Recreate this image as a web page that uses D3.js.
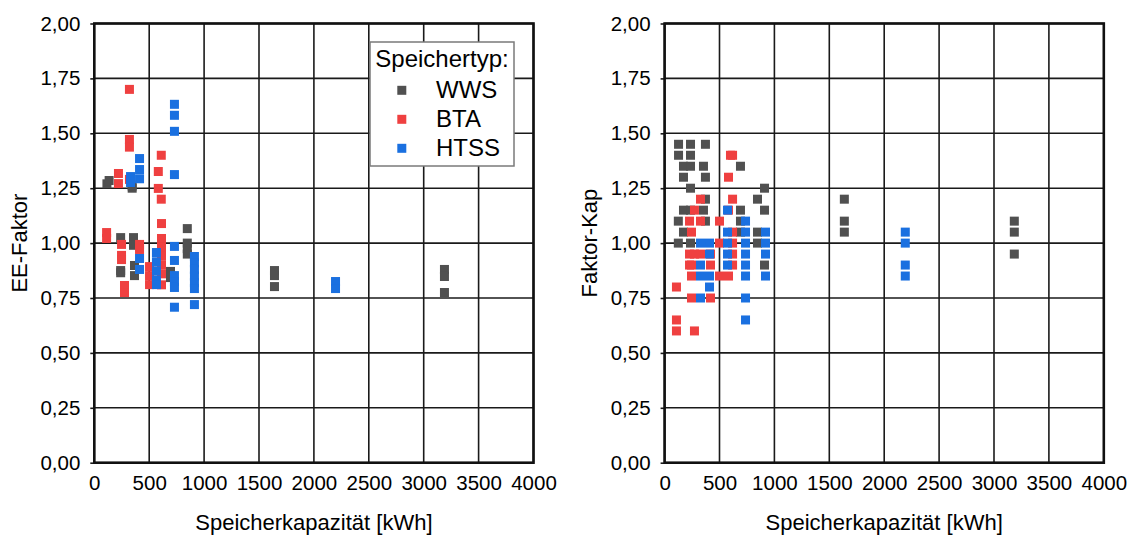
<!DOCTYPE html>
<html><head><meta charset="utf-8">
<script src="https://cdn.jsdelivr.net/npm/d3@7"></script>
<style>
body{margin:0;background:#fff;}
svg{display:block;font-family:"Liberation Sans",Arial,sans-serif;}
</style></head>
<body><svg id="c" width="1133" height="541"></svg>
<script>
// ---- data ----
const seriesNames = ["WWS", "BTA", "HTSS"];
const seriesColors = ["#505050", "#ef4040", "#1a70e0"];
const xTicks = [0, 500, 1000, 1500, 2000, 2500, 3000, 3500, 4000];
const yTicks = [0, 0.25, 0.5, 0.75, 1.0, 1.25, 1.5, 1.75, 2.0];
const xTitle = "Speicherkapazität [kWh]";
const leftTitle = "EE-Faktor";
const rightTitle = "Faktor-Kap";
const legendTitle = "Speichertyp:";

// left chart: EE-Faktor  [kWh, value]
const eeWWS = [[115,1.27],[135,1.285],[345,1.25],[345,1.26],[240,1.025],[357,1.025],[357,0.99],
  [240,0.875],[240,0.865],[366,0.898],[366,0.852],[694,0.871],[694,0.843],
  [847,1.066],[847,1.0],[847,0.975],[847,0.95],[1641,0.875],[1641,0.852],[1641,0.802],
  [3189,0.88],[3189,0.848],[3189,0.775]];
const eeBTA = [[320,1.70],[320,1.472],[320,1.437],[220,1.317],[220,1.271],[320,1.29],
  [583,1.326],[583,1.249],[610,1.40],[610,1.20],[612,1.089],[112,1.048],[112,1.021],
  [248,0.994],[248,0.944],[248,0.925],[412,0.994],[412,0.971],[275,0.807],[275,0.775],
  [503,0.893],[503,0.852],[503,0.811],[612,1.021],[612,0.98],[612,0.94],[612,0.90],[612,0.86],[612,0.81]];
const eeHTSS = [[730,1.632],[730,1.582],[730,1.509],[730,1.312],[412,1.385],[412,1.335],[412,1.293],
  [330,1.303],[330,1.276],[412,0.93],[412,0.88],[566,0.957],[566,0.915],[566,0.874],[566,0.833],[566,0.811],
  [730,0.985],[730,0.921],[730,0.852],[730,0.825],[730,0.798],[730,0.708],
  [912,0.939],[912,0.91],[912,0.88],[912,0.85],[912,0.82],[912,0.793],[912,0.72],
  [2197,0.825],[2197,0.793]];

// right chart: Faktor-Kap
const kapWWS = [[127,1.45],[236,1.45],[372,1.45],[127,1.40],[236,1.40],
  [172,1.35],[236,1.35],[354,1.35],[691,1.35],[172,1.30],[372,1.30],[236,1.25],[910,1.25],
  [372,1.20],[846,1.20],[172,1.15],[236,1.15],[354,1.15],[691,1.15],[910,1.15],
  [125,1.10],[372,1.10],[691,1.10],[172,1.05],[691,1.05],[846,1.05],
  [125,1.00],[236,1.00],[846,1.00],[910,0.90],
  [1637,1.20],[1637,1.10],[1637,1.05],[3185,1.10],[3185,1.05],[3185,0.95]];
const kapBTA = [[600,1.40],[619,1.40],[582,1.30],[327,1.20],[619,1.20],[272,1.15],[582,1.15],
  [227,1.10],[327,1.10],[500,1.10],[245,1.05],[619,1.05],[500,1.00],[619,1.00],
  [227,0.95],[272,0.95],[327,0.95],[418,0.95],[619,0.95],
  [227,0.90],[245,0.90],[418,0.90],[619,0.90],[245,0.85],[500,0.85],[582,0.85],
  [108,0.80],[245,0.75],[418,0.75],[108,0.65],[108,0.60],[272,0.60]];
const kapHTSS = [[573,1.15],[737,1.10],[573,1.05],[737,1.05],[919,1.05],
  [327,1.00],[409,1.00],[573,1.00],[737,1.00],[919,1.00],
  [409,0.95],[573,0.95],[737,0.95],[919,0.95],[327,0.90],[573,0.90],[737,0.90],
  [327,0.85],[409,0.85],[737,0.85],[919,0.85],[409,0.80],[327,0.75],[737,0.75],[737,0.65],
  [2192,1.05],[2192,1.00],[2192,0.90],[2192,0.85]];

// ---- drawing ----
const svg = d3.select("#c");
const fmtY = v => d3.format(".2f")(v).replace(".", ",");
const plotTop = 23.5, plotBottom = 462.7, plotW = 439.2;

function panel(x0, series, yTitle, titleX, legend) {
  const x = d3.scaleLinear().domain([0, 4000]).range([x0, x0 + plotW]);
  const y = d3.scaleLinear().domain([0, 2]).range([plotBottom, plotTop]);
  const g = svg.append("g");
  // grid
  g.append("g").selectAll("line").data(xTicks).join("line")
    .attr("x1", d => x(d)).attr("x2", d => x(d)).attr("y1", plotTop).attr("y2", plotBottom)
    .attr("stroke", "#1a1a1a").attr("stroke-width", 1.6);
  g.append("g").selectAll("line").data(yTicks).join("line")
    .attr("x1", x0).attr("x2", x0 + plotW).attr("y1", d => y(d)).attr("y2", d => y(d))
    .attr("stroke", "#1a1a1a").attr("stroke-width", 1.6);
  // axes
  const ax = g.append("g").attr("transform", `translate(0,${plotBottom})`)
    .call(d3.axisBottom(x).tickValues(xTicks).tickFormat(d3.format("d")).tickSize(0).tickPadding(13));
  const ay = g.append("g").attr("transform", `translate(${x0},0)`)
    .call(d3.axisLeft(y).tickValues(yTicks).tickFormat(fmtY).tickSize(4).tickPadding(10));
  [ax, ay].forEach(a => {
    a.select(".domain").remove();
    a.selectAll("text").attr("font-size", 20.5).attr("fill", "#000").attr("font-family", "Liberation Sans, Arial, sans-serif");
    a.selectAll("line").attr("stroke", "#1a1a1a").attr("stroke-width", 1.6);
  });
  // frame
  g.append("rect").attr("x", x0).attr("y", plotTop).attr("width", plotW).attr("height", plotBottom - plotTop)
    .attr("fill", "none").attr("stroke", "#111").attr("stroke-width", 2.6);
  // points
  series.forEach((s, i) => {
    g.append("g").selectAll("rect").data(s).join("rect")
      .attr("x", d => x(d[0]) - 4.5).attr("y", d => y(d[1]) - 4.5)
      .attr("width", 9).attr("height", 9).attr("fill", seriesColors[i]);
  });
  // titles
  g.append("text").attr("x", x(2000)).attr("y", 530).attr("text-anchor", "middle")
    .attr("font-size", 22).text(xTitle);
  g.append("text").attr("transform", `translate(${titleX},${(plotTop + plotBottom) / 2}) rotate(-90)`)
    .attr("text-anchor", "middle").attr("font-size", 22).text(yTitle);
  if (legend) {
    const lg = g.append("g");
    lg.append("rect").attr("x", 370).attr("y", 42).attr("width", 144).attr("height", 124)
      .attr("fill", "#fff").attr("stroke", "#7a7a7a").attr("stroke-width", 1.5);
    lg.append("text").attr("x", 442).attr("y", 66.5).attr("text-anchor", "middle")
      .attr("font-size", 24).text(legendTitle);
    seriesNames.forEach((n, i) => {
      const cy = 90.3 + i * 29;
      lg.append("rect").attr("x", 397.3).attr("y", cy - 4.5).attr("width", 9).attr("height", 9)
        .attr("fill", seriesColors[i]);
      lg.append("text").attr("x", 436).attr("y", cy + 8).attr("font-size", 24).text(n);
    });
  }
}

panel(94.3, [eeWWS, eeBTA, eeHTSS], leftTitle, 27, true);
panel(664.6, [kapWWS, kapBTA, kapHTSS], rightTitle, 597, false);
</script></body></html>
